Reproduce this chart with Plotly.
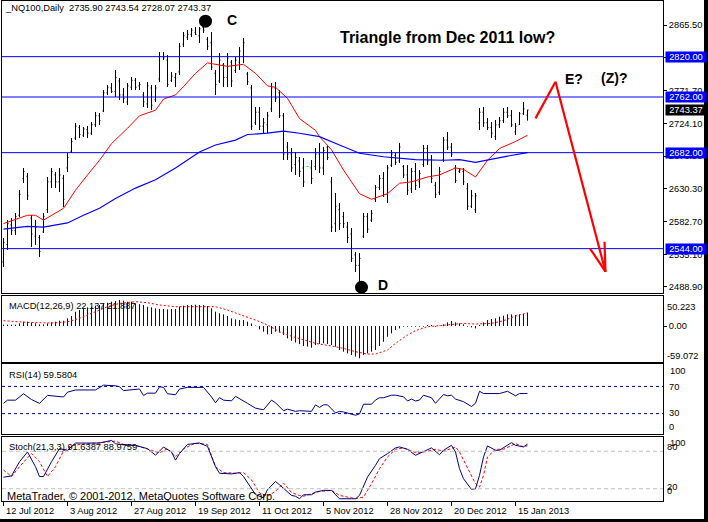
import plotly.graph_objects as go

# ---------------- data ----------------
highs = [2559.3,2585.2,2588.0,2595.2,2628.3,2659.9,2652.7,2592.4,2585.2,2563.6,
2595.2,2647.0,2659.9,2654.2,2659.9,2649.9,2681.5,2703.0,2724.6,2721.7,
2718.9,2720.3,2726.0,2740.4,2739.0,2772.0,2779.2,2782.1,2800.8,2789.3,
2774.9,2782.1,2790.7,2789.3,2783.5,2769.2,2783.5,2779.2,2779.2,2826.7,
2826.7,2822.3,2797.9,2796.5,2839.6,2855.4,2858.3,2861.2,2862.6,2862.6,
2875.5,2848.2,2855.4,2800.8,2825.2,2810.8,2825.2,2815.2,2819.5,2833.8,
2846.8,2797.9,2779.2,2747.6,2747.6,2731.8,2740.4,2782.1,2783.5,2772.0,
2739.0,2697.3,2688.7,2682.9,2675.7,2674.3,2662.0,2671.4,2688.7,2695.9,
2690.1,2693.0,2647.0,2624.0,2609.6,2596.7,2582.3,2573.7,2539.2,2537.7,
2595.2,2595.2,2599.5,2635.5,2649.9,2654.2,2664.2,2685.8,2681.5,2695.9,
2664.2,2664.2,2659.9,2667.1,2657.0,2693.0,2693.0,2678.6,2639.8,2661.4,
2704.5,2711.7,2695.9,2664.2,2659.9,2659.9,2638.4,2628.3,2624.0,2746.2,
2747.6,2731.8,2726.0,2728.9,2733.2,2746.2,2747.6,2743.3,2724.6,2740.4,
2754.8,2743.54]
lows = [2517.6,2542.0,2563.6,2563.6,2589.5,2638.4,2613.9,2546.4,2549.3,2532.0,
2566.5,2595.2,2631.2,2631.2,2625.4,2603.9,2654.2,2681.5,2700.2,2703.0,
2704.5,2703.0,2707.4,2718.9,2721.7,2740.4,2764.8,2767.7,2762.0,2757.7,
2753.3,2750.5,2772.0,2772.0,2772.0,2747.6,2746.2,2743.3,2754.8,2783.5,
2815.2,2776.3,2783.5,2776.3,2793.6,2833.8,2843.9,2848.2,2851.1,2839.6,
2854.0,2829.5,2800.8,2764.8,2782.1,2776.3,2776.3,2776.3,2796.5,2800.8,
2810.8,2779.2,2714.5,2721.7,2714.5,2710.2,2710.2,2740.4,2754.8,2731.8,
2671.4,2671.4,2654.2,2649.9,2647.0,2632.6,2662.0,2636.9,2657.0,2652.7,
2649.9,2671.4,2567.9,2567.9,2570.8,2573.7,2552.1,2524.8,2510.4,2494.6,
2559.3,2566.5,2582.3,2611.0,2628.3,2618.2,2609.6,2661.4,2664.2,2667.1,
2645.5,2621.1,2624.0,2628.3,2631.2,2661.4,2664.2,2638.4,2616.8,2621.1,
2668.5,2685.8,2675.7,2638.4,2652.7,2635.5,2599.5,2602.4,2595.2,2714.5,
2718.9,2714.5,2703.0,2700.2,2717.4,2724.6,2731.8,2718.9,2707.4,2721.7,
2736.1,2728.07]
opens = [2525,2550,2578,2570,2592,2645,2648,2588,2562,2560,
2568,2600,2640,2650,2640,2645,2660,2684,2703,2718,
2707,2715,2710,2722,2735,2742,2768,2775,2770,2785,
2765,2755,2776,2786,2778,2765,2752,2775,2758,2788,
2820,2815,2786,2790,2798,2838,2848,2852,2855,2850,
2862,2845,2840,2796,2785,2808,2790,2812,2800,2812,
2820,2795,2775,2725,2740,2720,2722,2745,2775,2768,
2735,2690,2680,2665,2670,2660,2662,2660,2662,2680,
2660,2690,2640,2580,2600,2590,2575,2565,2535,2520,
2562,2590,2585,2615,2632,2645,2622,2664,2678,2670,
2662,2650,2630,2655,2640,2665,2688,2672,2635,2625,
2672,2700,2690,2660,2655,2655,2630,2605,2600,2725,
2740,2725,2718,2705,2722,2728,2740,2735,2712,2722,
2738,2735.90]
closes = [2553,2580,2570,2590,2622,2655,2620,2565,2575,2540,
2590,2640,2655,2640,2650,2615,2675,2698,2720,2708,
2716,2710,2722,2735,2728,2768,2776,2770,2790,2765,
2760,2778,2786,2776,2780,2755,2778,2750,2775,2820,
2818,2780,2792,2795,2835,2850,2852,2858,2852,2860,
2858,2835,2805,2780,2815,2790,2818,2785,2815,2828,
2840,2784,2720,2740,2720,2725,2735,2775,2760,2735,
2680,2680,2660,2675,2655,2640,2662,2645,2680,2660,
2685,2675,2575,2605,2580,2580,2560,2530,2520,2530,
2590,2572,2595,2632,2645,2622,2660,2680,2668,2690,
2650,2628,2655,2635,2652,2688,2670,2645,2622,2655,
2700,2690,2680,2642,2657,2640,2605,2620,2620,2740,
2725,2718,2710,2722,2728,2740,2735,2722,2720,2738,
2745,2743.37]

# moving averages (bar index, value)
ma_fast_idx = [0,6,8,10,15,18,21,24,27,31,34,38,40,43,45,48,51,53,56,60,63,66,68,71,74,78,79,82,85,89,92,96,99,102,106,109,113,115,118,121,124,128,131]
ma_fast_val = [2580,2592,2592,2585,2602,2628,2650,2671,2695,2717,2735,2743,2759,2765,2777,2796,2811,2809,2806,2809,2796,2778,2776,2760,2731,2714,2705,2686,2657,2623,2615,2623,2638,2640,2647,2650,2660,2658,2647,2671,2688,2698,2707]
ma_slow_idx = [0,6,10,16,20,24,28,33,38,43,49,53,58,61,66,70,74,79,84,89,95,103,110,114,118,122,126,131]
ma_slow_val = [2572,2576,2575,2581,2592,2602,2616,2631,2643,2660,2683,2693,2700,2708,2710,2713,2710,2705,2693,2681,2676,2672,2671,2672,2668,2673,2677,2682]

levels = [2820.00, 2762.00, 2682.00, 2544.00]
last_price = 2743.37
price_ticks = [2865.50, 2818.30, 2771.70, 2724.10, 2676.90, 2630.30, 2582.70, 2535.10, 2488.90]

date_idx = [0, 16, 32, 48, 64, 80, 96, 112, 128]
date_labels = ["12 Jul 2012", "3 Aug 2012", "27 Aug 2012", "19 Sep 2012", "11 Oct 2012",
               "5 Nov 2012", "28 Nov 2012", "20 Dec 2012", "15 Jan 2013"]

macd_hist = [2.2,2.2,2.2,2.2,4.4,7.2,7.2,5.5,4.4,2.8,
2.8,4.4,6.1,7.2,8.8,8.8,12.7,16.6,23.7,26.5,
29.3,30.9,32.0,33.7,34.8,37.5,38.6,40.3,41.4,43.1,
42.0,40.3,40.3,37.5,36.4,34.8,32.0,30.9,29.3,28.2,
28.2,27.6,28.2,28.2,32.0,33.7,34.8,34.8,35.3,34.8,
34.8,33.1,29.3,23.7,21.0,19.3,16.6,12.7,11.0,9.9,
9.9,7.2,4.4,0.0,-5.5,-9.4,-13.8,-13.2,-9.4,-11.0,
-14.9,-20.4,-24.5,-27.3,-30.0,-33.1,-34.2,-35.9,-31.5,-29.8,
-28.7,-29.8,-31.5,-34.2,-39.7,-42.5,-45.3,-48.0,-50.8,-53.5,
-48.0,-45.3,-42.5,-39.7,-33.0,-26.0,-17.7,-12.1,-6.6,-3.9,
-1.1,-1.1,-1.1,-1.1,-1.1,-1.1,1.7,1.7,-1.1,0.0,
2.8,6.1,8.3,6.1,4.4,2.8,-1.1,-2.2,-3.9,1.7,
6.1,9.9,11.6,12.7,15.5,17.1,19.3,19.3,18.2,19.3,
19.9,22.1]
macd_sig_idx = [0,6,12,16,19,23,26,29,33,36,39,43,46,49,53,56,59,63,66,69,72,75,78,82,85,88,91,93,96,98,101,103,106,108,112,115,118,122,125,128,131]
macd_sig_val = [8.8,6,5,7,12.7,23.7,32,37.5,40.3,38.6,34.8,32,32,33.1,32,26.5,19.9,9.9,1.7,-9.4,-17,-23.2,-28.7,-33.1,-37,-42.5,-46.4,-46.4,-39.7,-28.7,-14.9,-7.7,-1.1,0,2.2,4.4,3.3,4.4,8.8,16.6,21.9]

rsi_idx = [0,1,3,5,7,9,11,15,16,18,23,25,28,29,30,34,35,36,38,39,40,41,43,44,46,50,52,53,54,55,57,58,61,63,65,67,68,70,71,72,73,74,77,78,79,80,81,83,84,85,87,88,89,90,92,93,94,95,97,98,100,101,102,103,104,105,107,108,110,111,112,113,115,117,118,119,120,124,126,127,128,129,131]
rsi_val = [45.1,49.8,49.8,59.2,50.7,45.1,56.8,54.5,61.5,64.8,64.8,71.9,70.9,69.5,63.9,66.2,56.8,60.1,60.1,69.5,68.6,59.2,57.8,66.2,68.6,68.6,54.5,46.0,53.5,49.8,48.8,55.4,45.1,38.0,35.6,49.8,46.0,34.2,36.6,35.0,33.3,34.3,33.3,42.9,39.1,42.9,42.9,31.0,33.3,32.4,29.5,27.6,29.5,43.8,43.8,50.0,53.3,53.3,57.1,57.1,54.8,48.6,51.4,48.6,50.0,57.1,53.3,45.2,58.1,56.2,57.1,51.4,47.6,40.5,45.2,62.9,59.5,59.5,62.9,59.5,56.2,59.5,59.6]

sto_main_idx = [0,2,4,6,8,9,10,12,14,16,18,21,24,27,28,31,33,36,38,40,42,43,44,46,49,51,53,54,57,59,60,63,65,66,68,69,71,72,73,74,75,77,78,80,82,84,87,88,89,91,93,94,96,98,99,101,103,105,107,109,110,112,113,114,115,117,118,119,120,121,123,124,127,128,130,131]
sto_main_val = [38.4,40.5,63.2,78.9,55.3,39.5,39.5,63.2,84.2,81.6,93.2,93.2,93.2,97.4,92.1,89.5,89.5,84.2,73.7,86.8,78.9,65.8,76.3,91.0,93.2,87.9,55.3,44.8,43.7,45.8,39.5,10.6,5.3,18.4,31.6,26.3,15.8,9.3,7.9,3.9,10.3,10.3,14.6,17.3,17.3,3.9,3.9,3.9,9.3,38.7,57.5,68.2,76.2,85.4,87.0,83.2,73.6,80.0,85.4,74.6,81.6,89.6,78.9,52.1,36.0,18.9,20.0,41.4,70.9,88.6,81.6,81.6,93.9,89.6,87.0,91.6]
sto_sig_idx = [0,2,4,7,9,11,13,15,17,21,24,28,30,33,37,39,41,43,45,48,51,53,55,58,60,62,64,66,68,70,72,74,75,77,79,82,84,88,90,92,94,96,98,100,103,105,108,110,113,114,116,118,119,120,121,123,125,128,130,131]
sto_sig_val = [50,39.5,55.3,76.3,63.2,39.5,55.3,80.5,89.5,92.1,93.2,96.3,91,89.5,81.6,77.4,84.2,71.1,84.2,93.2,91,55.3,45.8,44.8,45.8,34.2,13.2,7.9,15.8,29,14,9,8,12,15.7,17.3,9.3,3.9,6.6,28,52.1,70.9,83.2,85.4,77.9,78.9,83.2,80,87,78.9,52.1,28,22.6,41.4,70.9,83.2,83.2,92.3,87,89]

# ---------------- layout helpers ----------------
W, H = 708, 522
def PX(x): return x / W
def PY(y): return 1 - y / H

XD = [PX(2), PX(663)]
XR = [-0.375, 164.875]   # 4 px per bar, bars land on pixel centres
FONT = "Liberation Sans, Arial, sans-serif"
FS = 9.3
NAVY = "#000080"

n = len(closes)
idx = list(range(n))
doji = [i for i in idx if highs[i] == lows[i]]
reg = [i for i in idx if highs[i] != lows[i]]

fig = go.Figure()
fig.add_trace(go.Ohlc(x=reg, open=[opens[i] for i in reg], high=[highs[i] for i in reg],
                      low=[lows[i] for i in reg], close=[closes[i] for i in reg],
                      increasing=dict(line=dict(color="black", width=1)),
                      decreasing=dict(line=dict(color="black", width=1)),
                      tickwidth=0.25, xaxis="x", yaxis="y", hoverinfo="skip"))
fig.add_trace(go.Ohlc(x=doji, open=[opens[i] for i in doji], high=[highs[i] for i in doji],
                      low=[lows[i] for i in doji], close=[closes[i] for i in doji],
                      increasing=dict(line=dict(color="#00ff00", width=1)),
                      decreasing=dict(line=dict(color="#00ff00", width=1)),
                      tickwidth=0.3, xaxis="x", yaxis="y", hoverinfo="skip"))
fig.add_trace(go.Scatter(x=ma_fast_idx, y=ma_fast_val, mode="lines",
                         line=dict(color="#ff0000", width=1), xaxis="x", yaxis="y"))
fig.add_trace(go.Scatter(x=ma_slow_idx, y=ma_slow_val, mode="lines",
                         line=dict(color="#0000ff", width=1.1), xaxis="x", yaxis="y"))
# wave label dots (C high and D low)
fig.add_trace(go.Scatter(x=[50.5, 89.5], y=[2871.0, 2488.5], mode="markers",
                         marker=dict(color="black", size=13), cliponaxis=False,
                         xaxis="x", yaxis="y"))

# MACD histogram as thin 1px sticks from zero
hx, hy = [], []
for i, v in zip(idx, macd_hist):
    hx += [i, i, None]
    hy += [0, v if v != 0 else 0.6, None]
fig.add_trace(go.Scatter(x=hx, y=hy, mode="lines", line=dict(color=NAVY, width=1),
                         xaxis="x2", yaxis="y2"))
fig.add_trace(go.Scatter(x=macd_sig_idx, y=macd_sig_val, mode="lines",
                         line=dict(color="#ff0000", width=1, dash="2px,2px"), xaxis="x2", yaxis="y2"))
# RSI
fig.add_trace(go.Scatter(x=rsi_idx, y=rsi_val, mode="lines",
                         line=dict(color=NAVY, width=1), xaxis="x3", yaxis="y3"))
# Stochastic
fig.add_trace(go.Scatter(x=sto_sig_idx, y=sto_sig_val, mode="lines",
                         line=dict(color="#ff0000", width=1, dash="3px,2px"), xaxis="x4", yaxis="y4"))
fig.add_trace(go.Scatter(x=sto_main_idx, y=sto_main_val, mode="lines",
                         line=dict(color=NAVY, width=1), xaxis="x4", yaxis="y4"))

ax = dict(showline=True, mirror=True, linecolor="black", linewidth=1, showgrid=False,
          zeroline=False, fixedrange=True)
xa = dict(domain=XD, range=XR, showticklabels=False, ticks="", **ax)

layout = dict(
    width=W, height=H, margin=dict(l=0, r=0, t=0, b=0),
    paper_bgcolor="white", plot_bgcolor="white", showlegend=False,
    font=dict(family=FONT, size=FS, color="black"),
    xaxis=dict(anchor="y", rangeslider=dict(visible=False), **xa),
    xaxis2=dict(anchor="y2", **xa),
    xaxis3=dict(anchor="y3", **xa),
    xaxis4=dict(anchor="y4", **{**xa, "ticks": "outside", "ticklen": 4, "tickcolor": "black",
                                "tickvals": date_idx}),
    yaxis=dict(anchor="x", domain=[PY(293.3), PY(1)], range=[2479.8, 2900.0], side="right",
               tickvals=price_ticks, ticktext=[f"{v:.2f}" for v in price_ticks],
               ticks="outside", ticklen=3, tickcolor="black", **ax),
    yaxis2=dict(anchor="x2", domain=[PY(361.7), PY(295.7)], range=[-59.072, 50.223], side="right",
                tickvals=[0], ticktext=["0.00"], ticks="outside", ticklen=3, tickcolor="black", **ax),
    yaxis3=dict(anchor="x3", domain=[PY(434), PY(364)], range=[0, 103], side="right",
                showticklabels=False, ticks="", **ax),
    yaxis4=dict(anchor="x4", domain=[PY(500.5), PY(436.5)], range=[1.1, 103.7], side="right",
                showticklabels=False, ticks="", **ax),
)

shapes = []
for lv in levels:
    shapes.append(dict(type="line", xref="paper", yref="y", x0=XD[0], x1=XD[1], y0=lv, y1=lv,
                       line=dict(color="#0000ff", width=1)))
for lv in (70, 30):
    shapes.append(dict(type="line", xref="paper", yref="y3", x0=XD[0], x1=XD[1], y0=lv, y1=lv,
                       line=dict(color="#0000a0", width=1, dash="3px,3px")))
for lv in (80, 20):
    shapes.append(dict(type="line", xref="paper", yref="y4", x0=XD[0], x1=XD[1], y0=lv, y1=lv,
                       line=dict(color="#c0c0c0", width=1, dash="4px,3px")))
# red forecast arrow (drawn in chart coordinates: bar index, price)
arrow = [((133, 2731.3), (138, 2784.0)), ((138, 2784.0), (150.5, 2510.9)),
         ((146.6, 2544.5), (150.5, 2510.9)), ((150.25, 2554.0), (150.5, 2510.9))]
for (a, b) in arrow:
    shapes.append(dict(type="line", xref="x", yref="y", x0=a[0], y0=a[1], x1=b[0], y1=b[1],
                       line=dict(color="#ff0000", width=2.2)))
# window frame
shapes.append(dict(type="rect", xref="paper", yref="paper", x0=PX(704), x1=1, y0=0, y1=1,
                   fillcolor="black", line=dict(width=0), layer="above"))
shapes.append(dict(type="rect", xref="paper", yref="paper", x0=0, x1=1, y0=0, y1=PY(519),
                   fillcolor="black", line=dict(width=0), layer="above"))
layout["shapes"] = shapes

ann = []
def text(x, y, t, size=FS, color="black", xanchor="left", **kw):
    ann.append(dict(xref="paper", yref="paper", x=PX(x), y=PY(y), text=t, showarrow=False,
                    xanchor=xanchor, yanchor="middle", font=dict(size=size, color=color, family=FONT),
                    **kw))

text(3, 7.5, "_NQ100,Daily  2735.90 2743.54 2728.07 2743.37")
text(447, 38, "<b>Triangle from Dec 2011 low?</b>", size=16, xanchor="center")
text(232, 20, "<b>C</b>", size=14, xanchor="center")
text(383, 284.5, "<b>D</b>", size=14, xanchor="center")
text(574, 79, "<b>E?</b>", size=14, xanchor="center")
text(614, 78, "<b>(Z)?</b>", size=14, xanchor="center")
text(7, 305.5, "MACD(12,26,9) 22.137 21.887")
text(7, 375.3, "RSI(14) 59.5804")
text(7, 447, "Stoch(21,3,3) 91.6387 88.9759")
text(5, 496, "MetaTrader, © 2001-2012, MetaQuotes Software Corp.", size=11)

# indicator scale labels
for t, x, y in [("50.223", 664.5, 306.7), ("-59.072", 664.5, 355.7),
                ("100", 667.5, 371), ("70", 666.5, 386.7), ("30", 666.5, 413.3), ("0", 667, 426.7),
                ("100", 668, 442.7), ("80", 664.5, 447.3), ("20", 664.5, 486.7), ("0", 664.5, 490.7)]:
    text(x, y, t)

# price level boxes
for lv in levels:
    ann.append(dict(xref="paper", yref="y", x=PX(665), y=lv, text=f"{lv:.2f}", showarrow=False,
                    xanchor="left", yanchor="middle", bgcolor="#0000ff", borderpad=1,
                    width=38, height=8, font=dict(size=FS, color="white", family=FONT)))
ann.append(dict(xref="paper", yref="y", x=PX(665), y=last_price, text=f"{last_price:.2f}",
                showarrow=False, xanchor="left", yanchor="middle", bgcolor="black", borderpad=1,
                width=38, height=8, font=dict(size=FS, color="white", family=FONT)))

# date labels
for i, lab in zip(date_idx, date_labels):
    ann.append(dict(xref="x4", yref="paper", x=i, y=PY(510.5), text=lab, showarrow=False,
                    xanchor="left", yanchor="middle", xshift=0,
                    font=dict(size=FS, color="black", family=FONT)))
layout["annotations"] = ann

fig.update_layout(**layout)
fig.write_html("out.html")
